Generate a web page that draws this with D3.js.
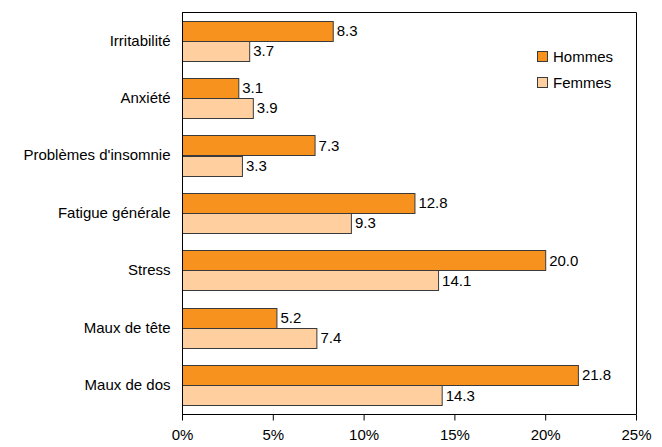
<!DOCTYPE html>
<html>
<head>
<meta charset="utf-8">
<script src="https://cdn.jsdelivr.net/npm/d3@7"></script>
<style>
  html, body { margin: 0; padding: 0; background: #fff; }
  svg { display: block; font-family: "Liberation Sans", Arial, sans-serif; }
</style>
</head>
<body>
<svg id="chart" width="662" height="447"></svg>
<script>
const categories = ["Irritabilité", "Anxiété", "Problèmes d'insomnie", "Fatigue générale", "Stress", "Maux de tête", "Maux de dos"];
const hommes = [8.3, 3.1, 7.3, 12.8, 20.0, 5.2, 21.8];
const femmes = [3.7, 3.9, 3.3, 9.3, 14.1, 7.4, 14.3];
const seriesNames = ["Hommes", "Femmes"];
const xTicks = [0, 5, 10, 15, 20, 25];

(function () {
const colors = { Hommes: "#F7921F", Femmes: "#FFCF9F" };
const svg = d3.select("#chart");
const pLeft = 182, pRight = 636, pTop = 12, pBottom = 414;

const x = d3.scaleLinear().domain([0, 25]).range([pLeft, pRight]);
const y = d3.scaleBand().domain(categories).range([pTop, pBottom]).paddingInner(0.3).paddingOuter(0.15);
const ySub = d3.scaleBand().domain(seriesNames).range([0, y.bandwidth()]);

const series = [
  { name: "Hommes", values: hommes },
  { name: "Femmes", values: femmes }
];

// frame (top and right)
svg.append("path")
  .attr("d", `M${pLeft},${pTop + 0.5}H${pRight + 0.5}V${pBottom}`)
  .attr("fill", "none").attr("stroke", "#000").attr("stroke-width", 1);

// bars
series.forEach(s => {
  const g = svg.append("g");
  g.selectAll("rect").data(categories).join("rect")
    .attr("x", pLeft + 0.5)
    .attr("y", (c) => Math.round(y(c) + ySub(s.name)) + 0.5)
    .attr("width", (c, i) => x(s.values[i]) - pLeft)
    .attr("height", Math.round(ySub.bandwidth()))
    .attr("fill", colors[s.name])
    .attr("stroke", "#3a3a3a").attr("stroke-width", 1);
  g.selectAll("text").data(categories).join("text")
    .attr("x", (c, i) => x(s.values[i]) + 4)
    .attr("y", (c) => y(c) + ySub(s.name) + ySub.bandwidth() / 2)
    .attr("dy", "0.35em")
    .attr("font-size", 15).attr("fill", "#000")
    .text((c, i) => d3.format(".1f")(s.values[i]));
});

// x axis
const xAxis = d3.axisBottom(x).tickValues(xTicks).tickSize(6).tickPadding(9)
  .tickFormat(d => d + "%");
const gx = svg.append("g").attr("transform", `translate(0,${pBottom + 0.5})`).call(xAxis);
gx.selectAll("text").attr("font-size", 15).attr("fill", "#000").attr("font-family", "Liberation Sans, Arial, sans-serif");
gx.selectAll("line").attr("stroke", "#000");
gx.select(".domain").attr("stroke", "#000").attr("d", `M${pLeft},0H${pRight + 0.5}`);

// y axis
const yAxis = d3.axisLeft(y).tickSize(0).tickPadding(12);
const gy = svg.append("g").attr("transform", `translate(${pLeft + 0.5},0)`).call(yAxis);
gy.selectAll("text").attr("font-size", 15).attr("fill", "#000").attr("font-family", "Liberation Sans, Arial, sans-serif");
gy.select(".domain").attr("stroke", "#000").attr("d", `M0,${pTop}V${pBottom + 6}`);

// legend
const legend = svg.append("g");
seriesNames.forEach((n, i) => {
  const ly = 51 + i * 26;
  legend.append("rect").attr("x", 537.5).attr("y", ly + 0.5).attr("width", 10).attr("height", 10)
    .attr("fill", colors[n]).attr("stroke", "#3a3a3a");
  legend.append("text").attr("x", 553).attr("y", ly + 10.5).attr("font-size", 15).attr("fill", "#000").text(n);
});
})();
</script>
</body>
</html>
